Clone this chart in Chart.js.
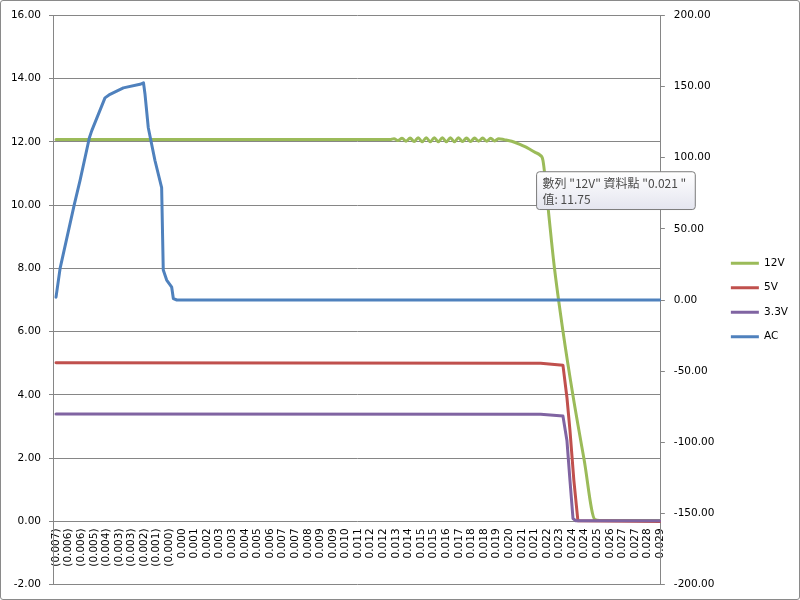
<!DOCTYPE html>
<html><head><meta charset="utf-8">
<script src="https://cdn.jsdelivr.net/npm/chart.js@4.4.1/dist/chart.umd.min.js"></script>
<style>
html,body{margin:0;padding:0;background:#fff;}
#wrap{position:relative;width:800px;height:600px;}
#frame{position:absolute;left:0;top:0;width:798px;height:598px;border:1px solid #8a8a8a;border-radius:3px;pointer-events:none;}
</style></head><body>
<div id="wrap"><canvas id="c" width="800" height="600"></canvas><div id="frame"></div></div>
<script>
const tickLabels = ["(0.007)","(0.006)","(0.006)","(0.005)","(0.004)","(0.003)","(0.003)","(0.002)","(0.001)","(0.000)","0.000","0.001","0.002","0.003","0.003","0.004","0.005","0.006","0.007","0.007","0.008","0.009","0.009","0.010","0.011","0.012","0.012","0.013","0.014","0.015","0.015","0.016","0.017","0.018","0.018","0.019","0.020","0.021","0.021","0.022","0.023","0.024","0.024","0.025","0.026","0.027","0.027","0.028","0.029"];

const v12Idx = [0, 26.53, 26.85, 27.17, 27.49, 27.81, 28.13, 28.45, 28.77, 29.09, 29.41, 29.73, 30.05, 30.37, 30.69, 31.01, 31.33, 31.65, 31.97, 32.29, 32.61, 32.93, 33.25, 33.57, 33.89, 34.21, 34.53, 34.85, 35.17, 35.6, 36.2, 36.85, 37.3, 37.7, 38.1, 38.45, 38.68, 39.08, 39.56, 40.27, 41.07, 41.94, 42.81, 43.2, 48];
const v12Val = [12.07, 12.07, 12.10, 12.04, 12.11, 12.02, 12.12, 12.01, 12.13, 12.00, 12.13, 12.00, 12.13, 12.00, 12.13, 12.00, 12.13, 12.00, 12.13, 12.01, 12.12, 12.01, 12.12, 12.02, 12.12, 12.02, 12.11, 12.03, 12.10, 12.07, 12.02, 11.92, 11.84, 11.75, 11.66, 11.58, 11.42, 9.95, 8.13, 6.02, 3.97, 1.98, 0.06, 0.03, 0.03];

const v5Idx = [0, 38.5, 40.27, 40.59, 40.83, 41.14, 41.46, 48];
const v5Val = [5.02, 5.00, 4.94, 3.91, 2.87, 1.29, 0.02, 0.0];

const v33Idx = [0, 38.5, 40.27, 40.59, 40.83, 41.07, 41.3, 48];
const v33Val = [3.40, 3.39, 3.33, 2.55, 1.29, 0.09, 0.02, 0.02];

const acIdx = [0, 0.32, 1.45, 1.91, 2.65, 2.84, 3.89, 4.29, 5.35, 6.67, 6.95, 7.07, 7.33, 7.86, 8.39, 8.52, 8.79, 9.19, 9.32, 9.6, 48];
const acVal = [2, 22, 67, 84, 114, 119, 142, 144.5, 149, 151.5, 152.5, 144.5, 121, 98, 79, 21, 14, 9, 1, 0, 0];

const leftTicks = {min: -2, max: 16, step: 2};
const rightTicks = {min: -200, max: 200, step: 50};

const FONT = "'DejaVu Sans', Verdana, sans-serif";
const TFONT = "'Noto Sans CJK TC', 'Noto Sans', sans-serif";
const GRID = '#868686';

Chart.Tooltip.positioners.nearCursor = function(items) {
  if (!items.length) return false;
  const el = items[0].element;
  return { x: el.x + 9, y: el.y + 22, xAlign: 'left', yAlign: 'top' };
};

const mk = (xs, ys) => xs.map((x, i) => ({x, y: ys[i]}));

const chart = new Chart(document.getElementById('c'), {
  type: 'line',
  data: { datasets: [
    {label: '12V', data: mk(v12Idx, v12Val), borderColor: '#9BBB59', backgroundColor: '#9BBB59', yAxisID: 'y', order: 4, cubicInterpolationMode: 'monotone'},
    {label: '5V', data: mk(v5Idx, v5Val), borderColor: '#C0504D', backgroundColor: '#C0504D', yAxisID: 'y', order: 3},
    {label: '3.3V', data: mk(v33Idx, v33Val), borderColor: '#8064A2', backgroundColor: '#8064A2', yAxisID: 'y', order: 2},
    {label: 'AC', data: mk(acIdx, acVal), borderColor: '#4F81BD', backgroundColor: '#4F81BD', yAxisID: 'y1', order: 1}
  ]},
  options: {
    responsive: false, animation: false, events: [], devicePixelRatio: 1,
    layout: {padding: {left: 11, right: 2, top: 15, bottom: 15}},
    elements: {
      point: {radius: 0, hoverRadius: 0},
      line: {borderWidth: 3, tension: 0, fill: false, borderJoinStyle: 'round', borderCapStyle: 'round'}
    },
    scales: {
      x: {
        type: 'linear', min: -0.24, max: 48.05, position: {y: 0},
        afterBuildTicks: (s) => { s.ticks = tickLabels.map((_, i) => ({value: i})); },
        grid: {display: false, drawTicks: false},
        border: {display: false},
        ticks: {autoSkip: false, minRotation: 90, maxRotation: 90, padding: 7, color: '#000',
          font: {family: FONT, size: 10.5}, callback: (v) => tickLabels[v]}
      },
      y: {
        type: 'linear', position: 'left', min: leftTicks.min, max: leftTicks.max,
        afterFit: (s) => { s.width = 42; },
        ticks: {stepSize: leftTicks.step, padding: 8, color: '#000', font: {family: FONT, size: 10.5},
          callback: (v) => v.toFixed(2)},
        grid: {color: GRID, tickColor: GRID, tickLength: 4, drawTicks: true},
        border: {display: true, color: GRID}
      },
      y1: {
        type: 'linear', position: 'right', min: rightTicks.min, max: rightTicks.max,
        afterFit: (s) => { s.width = 56; },
        ticks: {stepSize: rightTicks.step, padding: 9, color: '#000', font: {family: FONT, size: 10.5},
          callback: (v) => v.toFixed(2)},
        grid: {drawOnChartArea: false, color: GRID, tickColor: GRID, tickLength: 4, drawTicks: true},
        border: {display: true, color: GRID}
      }
    },
    plugins: {
      legend: {
        position: 'right', align: 'center',
        labels: {
          boxWidth: 28, boxHeight: 3, padding: 14, color: '#000', font: {family: FONT, size: 10.5},
          sort: (a, b) => a.datasetIndex - b.datasetIndex,
          generateLabels: (ch) => Chart.defaults.plugins.legend.labels.generateLabels(ch)
            .map(l => Object.assign({}, l, {lineWidth: 0, fillStyle: l.strokeStyle}))
        }
      },
      tooltip: {
        enabled: true, position: 'nearCursor', xAlign: 'left', yAlign: 'top',
        caretSize: 0, caretPadding: 0, cornerRadius: 3, displayColors: false,
        backgroundColor: (ctx) => {
          const t = ctx.tooltip;
          if (!t || !isFinite(t.y) || !t.height) return '#f1f2f6';
          const g = ctx.chart.ctx.createLinearGradient(0, t.y, 0, t.y + t.height);
          g.addColorStop(0, '#ffffff');
          g.addColorStop(1, '#e4e5ef');
          return g;
        },
        borderColor: '#7a7a7a', borderWidth: 1,
        titleColor: '#4a4a4a', bodyColor: '#4a4a4a',
        titleFont: {family: TFONT, size: 12, weight: 'normal'},
        bodyFont: {family: TFONT, size: 12, weight: 'normal'},
        padding: {top: 4, bottom: 3, left: 6, right: 9},
        titleMarginBottom: 2,
        callbacks: {
          title: (items) => '數列 "' + items[0].dataset.label + '" 資料點 "' + tickLabels[Math.round(items[0].parsed.x)] + ' "',
          label: (item) => '值: ' + item.parsed.y.toFixed(2)
        }
      }
    }
  }
});

const pi = chart.data.datasets[0].data.findIndex(p => p.x === 37.7);
chart.tooltip.setActiveElements([{datasetIndex: 0, index: pi}], {x: 0, y: 0});
chart.update();
</script></body></html>
